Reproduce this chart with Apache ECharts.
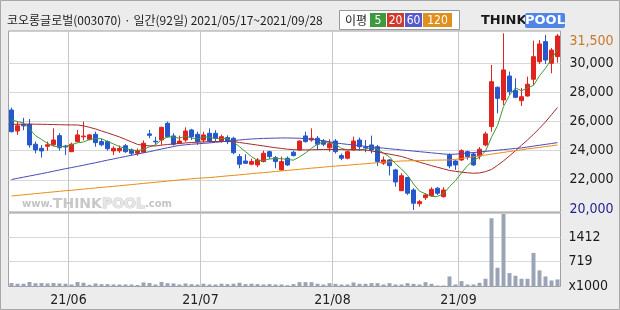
<!DOCTYPE html>
<html><head><meta charset="utf-8">
<script src="https://cdn.jsdelivr.net/npm/echarts@6/dist/echarts.min.js"></script>
<style>html,body{margin:0;padding:0;background:#ececec;} #c{width:620px;height:310px;}</style>
</head><body><div id="c"></div><script>
const dates = ['05/17','05/18','05/20','05/21','05/24','05/25','05/26','05/27','05/28','05/31',
 '06/01','06/02','06/03','06/04','06/07','06/08','06/09','06/10','06/11','06/14','06/15','06/16','06/17','06/18','06/21','06/22','06/23','06/24','06/25','06/28','06/29','06/30',
 '07/01','07/02','07/05','07/06','07/07','07/08','07/09','07/12','07/13','07/14','07/15','07/16','07/19','07/20','07/21','07/22','07/23','07/26','07/27','07/28','07/29','07/30',
 '08/02','08/03','08/04','08/05','08/06','08/09','08/10','08/11','08/12','08/13','08/17','08/18','08/19','08/20','08/23','08/24','08/25','08/26','08/27','08/30','08/31',
 '09/01','09/02','09/03','09/06','09/07','09/08','09/09','09/10','09/13','09/14','09/15','09/16','09/17','09/23','09/24','09/27','09/28'];
const monthStarts = ['06/01','07/01','08/02','09/01'];
const monthLabels = ['21/06','21/07','21/08','21/09'];

const open = [26790,25350,25800,25810,24440,24160,24300,24400,25030,24300,
 23930,24620,24950,24780,25120,24620,24620,23980,23990,24340,
 24050,23820,23890,25150,24650,24730,25880,25010,24510,24730,
 25420,25120,24730,25190,25190,24660,24900,24850,23590,23290,
 23070,23020,23250,23930,23520,22680,23480,23890,24050,25010,
 24730,24850,24660,24200,24660,23660,23480,24050,24730,24250,
 24390,24270,23140,23360,22680,21250,22150,21300,20360,20775,
 20910,21420,20840,23700,23290,23360,23930,23770,23630,24390,
 25650,28350,27480,29120,28120,27430,27750,28900,30100,31480,
 30000,30450];
const close = [25300,25710,25700,24390,24050,23980,24400,24730,24200,24250,
 24440,25080,25000,25080,24550,24400,24130,24160,24150,23930,
 23820,23980,24510,25050,24600,25600,24960,24440,24660,25350,
 24960,24620,25080,24660,24850,24960,24620,23860,23070,23130,
 23250,23360,23820,23590,23250,23250,23020,23660,24660,24620,
 24850,24440,24440,24480,23930,23480,23930,24660,24270,24200,
 24050,23250,23360,22970,21850,22280,21080,20390,20500,20960,
 21350,21080,21300,22950,23020,24000,23590,23020,24100,25150,
 28730,27590,29540,28050,27660,27700,28560,30450,31320,30220,
 30900,31870];
const low = [25250,25080,25400,24200,23820,23520,24000,24300,24000,23700,
 23900,24550,24700,24700,24270,24300,24000,23700,23850,23850,
 23660,23650,23850,24850,24400,24400,24900,24340,24450,24600,
 24730,24400,24550,24550,24630,24550,24450,23750,22790,23080,
 23000,22860,23200,23430,22790,22620,22950,23600,24000,24550,
 24620,24050,24300,23930,23800,23350,23400,24000,24000,23890,
 23820,22950,23020,22300,21530,21250,20960,19930,20160,20620,
 20860,20960,20780,22790,22680,23300,23380,22950,23400,24300,
 25300,26560,27130,27820,27600,27070,27700,28500,29950,29950,
 29310,30040];
const high = [26950,25990,26250,26170,24620,24390,24620,25530,25200,24400,
 24550,25420,26000,25150,25300,24800,24700,24300,24350,24450,
 24150,24150,24700,25420,24950,25650,25990,25190,25030,25600,
 25500,25300,25300,25530,25400,25100,25050,24950,23770,23750,
 23450,23500,24000,24000,23630,23590,23600,24000,24700,25300,
 25530,25000,24800,24780,24800,23800,24000,24960,24900,24730,
 25030,24390,23590,23430,22750,22450,22200,21420,20620,21080,
 21490,21500,21490,23820,23350,24100,24000,23900,24250,25300,
 29880,28400,32050,29420,28960,28300,29080,31550,31590,31940,
 31040,32000];
const ma5 = [26100,26000,25900,25500,25030,24770,24500,24310,24270,24310,
 24400,24540,24590,24770,24830,24820,24630,24460,24280,24150,
 24040,24010,24080,24260,24390,24750,24940,24930,24850,25000,
 24870,24810,24930,24930,24830,24830,24830,24590,24270,23930,
 23590,23330,23330,23430,23450,23450,23390,23350,23570,23840,
 24160,24450,24600,24570,24430,24150,24050,24100,24050,24110,
 24220,24090,23830,23570,23100,22740,22310,21710,21220,21040,
 20860,20860,21040,21530,21940,22470,22970,23320,23550,23970,
 24920,25720,27020,27810,28310,28110,28300,28480,29140,29650,
 30290,30950];
const ma20 = [25800,25810,25820,25820,25815,25810,25800,25790,25780,25770,
 25765,25760,25700,25600,25490,25350,25220,25080,24940,24770,
 24600,24430,24360,24330,24320,24380,24420,24460,24490,24530,
 24560,24580,24600,24620,24630,24630,24625,24615,24560,24500,
 24440,24380,24320,24260,24200,24150,24100,24070,24050,24050,
 24060,24070,24080,24080,24080,24070,24060,24055,24050,24045,
 23980,23900,23830,23760,23680,23600,23470,23340,23210,23090,
 22970,22860,22750,22640,22580,22530,22480,22450,22470,22560,
 22710,22990,23300,23640,24000,24370,24730,25120,25540,25970,
 26470,26960];
const ma60 = [22020,22100,22180,22260,22340,22420,22500,22590,22675,22760,
 22840,22920,23000,23090,23170,23260,23350,23430,23520,23600,
 23680,23760,23850,23930,24020,24110,24200,24280,24360,24400,
 24440,24470,24500,24530,24570,24610,24650,24690,24730,24770,
 24800,24820,24840,24850,24860,24870,24870,24860,24850,24820,
 24780,24730,24680,24610,24530,24480,24430,24390,24340,24300,
 24250,24210,24170,24130,24090,24050,24010,23970,23930,23890,
 23850,23810,23770,23740,23760,23800,23840,23870,23910,23950,
 23990,24030,24070,24110,24150,24190,24250,24310,24370,24430,
 24490,24550];
const ma120 = [20890,20930,20970,21010,21050,21090,21130,21170,21210,21250,
 21280,21320,21360,21400,21440,21480,21520,21550,21590,21630,
 21670,21710,21750,21790,21830,21870,21910,21950,21990,22030,
 22070,22100,22130,22150,22190,22230,22270,22300,22340,22380,
 22420,22460,22490,22530,22570,22610,22650,22680,22720,22760,
 22800,22830,22870,22910,22940,22970,23000,23040,23070,23100,
 23140,23170,23200,23230,23260,23290,23300,23310,23320,23330,
 23340,23350,23355,23360,23400,23460,23520,23580,23640,23700,
 23760,23820,23880,23940,24000,24060,24120,24170,24220,24280,
 24330,24390];
const volume = [100,80,80,130,95,100,88,100,88,80,
 58,130,108,50,88,68,68,58,58,58,
 58,44,116,100,58,130,95,88,58,88,
 68,58,80,58,58,80,68,80,108,68,
 80,68,58,68,58,58,38,68,125,125,
 125,80,58,97,77,58,58,116,77,77,
 97,97,58,97,58,58,97,77,58,126,
 77,29,29,290,58,155,58,58,107,223,
 1966,542,2092,387,310,223,223,968,465,290,
 174,203];
const priceTicks = [20000,22000,24000,26000,28000,30000,31500];
const priceGrid = [22000,24000,26000,28000,30000];
const volTicks = [0,719,1412];
const volGrid = [719,1412];
const maNames = ['5','20','60','120'];
const maColors = ['#3f9a35','#a8282a','#4a4ab8','#e88c14'];
const maBoxColors = ['#3d9a3d','#d03a2c','#5858cc','#e0901f'];
const maData = [ma5, ma20, ma60, ma120];

const candles = open.map((o,i)=>[o, close[i], low[i], high[i]]);
// month boundaries (left edge of each month's first trading day) in category units
const monthBounds = monthStarts.map(m => dates.indexOf(m) - 0.5);
const numFont = '"Liberation Sans Narrow","DejaVu Sans Condensed",sans-serif';
const chart = echarts.init(document.getElementById('c'), null, {renderer:'canvas'});

const legendEls = [];
let bx = 370;
const bw = [17,18,18,30];
maNames.forEach((n,k)=>{
  legendEls.push({type:'rect', shape:{x:bx, y:13, width:bw[k]-1, height:14}, style:{fill:maBoxColors[k]}, z:10});
  legendEls.push({type:'text', style:{text:n, x:bx+(bw[k]-1)/2, y:20.5, align:'center', verticalAlign:'middle', fill:'#fff', font:'12px '+numFont}, z:11});
  bx += bw[k];
});

const hiddenTick = (vals) => ({show:true, length:0, customValues:vals, lineStyle:{color:'rgba(0,0,0,0)'}});

const monthAxis = (gi, showLabel) => ({
  type:'value', gridIndex:gi, min:-0.5, max:dates.length-0.5, position:'bottom',
  axisLine:{show:false}, axisTick:hiddenTick(monthBounds),
  axisLabel:{show:showLabel, customValues:monthBounds, margin:7, color:'#222', fontSize:14, fontFamily:numFont,
    formatter:v=>{const k = monthBounds.indexOf(Number(v)); return k>=0 ? monthLabels[k] : '';}},
  splitLine:{show:true, lineStyle:{color:'#c6c6c6', width:1}}
});

const option = {
  animation:false,
  backgroundColor:'#ececec',
  grid:[
    {left:8.5, width:552, top:31, height:181, show:true, backgroundColor:'#fff', borderColor:'#a0a0a0', borderWidth:1},
    {left:8.5, width:552, top:213, height:73.5, show:true, backgroundColor:'#fff', borderColor:'#a0a0a0', borderWidth:1}
  ],
  xAxis:[
    {type:'category', gridIndex:0, data:dates, boundaryGap:true,
     axisLine:{show:false}, axisTick:{show:false}, axisLabel:{show:false}, splitLine:{show:false}},
    {type:'category', gridIndex:1, data:dates, boundaryGap:true,
     axisLine:{show:false}, axisTick:{show:false}, axisLabel:{show:false}, splitLine:{show:false}},
    monthAxis(0, false),
    monthAxis(1, true)
  ],
  yAxis:[
    {type:'value', gridIndex:0, position:'right', min:19790, max:32210,
     axisLine:{show:false}, axisTick:hiddenTick(priceGrid),
     axisLabel:{customValues:priceTicks, margin:9, fontSize:14, fontFamily:numFont,
       formatter:v=>Number(v).toLocaleString('en-US'),
       color:v=>Number(v)===31500?'#c8782a':(Number(v)===20000?'#1e1e8c':'#1a1a1a')},
     splitLine:{show:true, lineStyle:{color:'#d8d8d8', width:1}}},
    {type:'value', gridIndex:1, position:'right', min:0, max:2118,
     axisLine:{show:false}, axisTick:hiddenTick(volGrid),
     axisLabel:{customValues:volTicks, margin:8, fontSize:14, fontFamily:numFont, color:'#1a1a1a',
       formatter:v=>Number(v)===0?'x1000':String(v)},
     splitLine:{show:true, lineStyle:{color:'#d8d8d8', width:1}}}
  ],
  graphic:[
    {type:'rect', shape:{x:0.5,y:0.5,width:619,height:309}, style:{fill:'none', stroke:'#a8a8a8'}, z:0},
    {type:'text', style:{text:'코오롱글로벌(003070) · 일간(92일) 2021/05/17~2021/09/28', x:7, y:20.5, verticalAlign:'middle', fill:'#222', font:'12px "Noto Sans CJK KR", sans-serif'}, z:10},
    {type:'rect', shape:{x:339.5, y:10.5, width:120, height:19}, style:{fill:'#fff', stroke:'#9a9a9a'}, z:9},
    {type:'text', style:{text:'이평', x:345, y:20.5, verticalAlign:'middle', fill:'#222', font:'12px "Noto Sans CJK KR", sans-serif'}, z:10},
    ...legendEls,
    {type:'text', style:{text:'THINK', x:481, y:20.5, verticalAlign:'middle', fill:'#1a1a1a', font:'bold 13px "DejaVu Sans", sans-serif'}, z:10},
    {type:'rect', shape:{x:525, y:13, width:40, height:15, r:2}, style:{fill:'#4f86e6'}, z:10},
    {type:'text', style:{text:'POOL', x:545, y:20.5, align:'center', verticalAlign:'middle', fill:'#fff', font:'bold 13px "DejaVu Sans", sans-serif'}, z:11},
    {type:'text', style:{text:'{a|www.}{b|THINK}{c|POOL}{a|.com}', x:22, y:204, verticalAlign:'middle',
      rich:{a:{fontSize:10, fill:'#c4c4c4', fontFamily:'DejaVu Sans', fontWeight:'bold'},
            b:{fontSize:14, fill:'#c8c8c8', fontFamily:'DejaVu Sans', fontWeight:'bold'},
            c:{fontSize:14, fill:'#e6e6e6', stroke:'#c8c8c8', lineWidth:1, fontFamily:'DejaVu Sans', fontWeight:'bold'}}}, z:5}
  ],
  series:[
    {type:'candlestick', xAxisIndex:0, yAxisIndex:0, data:candles, barWidth:5, z:3,
     itemStyle:{color:'#e0231e', color0:'#2458cc', borderColor:'#e0231e', borderColor0:'#2458cc', borderWidth:1}},
    ...maData.map((d,k)=>({type:'line', name:'MA'+maNames[k], xAxisIndex:0, yAxisIndex:0, data:d, symbol:'none',
      lineStyle:{color:maColors[k], width:1}, z:4, silent:true})),
    {type:'bar', xAxisIndex:1, yAxisIndex:1, data:volume, barWidth:4, itemStyle:{color:'#9ba4b6'}}
  ]
};
chart.setOption(option);
</script></body></html>
